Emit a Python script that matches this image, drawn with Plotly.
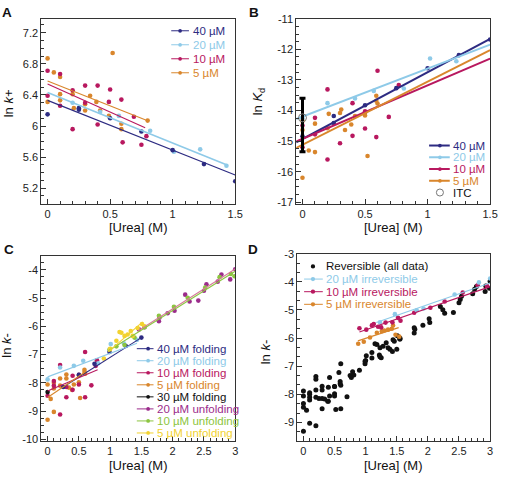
import plotly.graph_objects as go
import numpy as np

W, H = 505, 478
FONT = "Liberation Sans, Arial, sans-serif"

NAVY = "#2d2b82"
LBLUE = "#8ecae8"
MAG = "#b8185f"
ORANGE = "#d9862c"
PURPLE = "#9b2b8b"
GREEN = "#8cc540"
YELLOW = "#f2d230"
BLACK = "#111111"

# ---------------- Panel A : ln k+ ----------------
a40_x = [0, 0.25, 0.25, 0.5, 0.75, 1.0, 1.25, 1.5]
a40_y = [6.15, 6.23, 6.21, 6.10, 5.93, 5.69, 5.51, 5.29]
a20_x = [0.2, 0.42, 0.57, 0.82, 1.01, 1.22, 1.43]
a20_y = [6.30, 6.18, 6.13, 5.94, 5.67, 5.70, 5.49]
a10_x = [0, 0, 0.1, 0.1, 0.2, 0.2, 0.3, 0.3, 0.4, 0.4, 0.49, 0.5, 0.59, 0.6, 0.69, 0.75, 0.79]
a10_y = [6.71, 6.39, 6.67, 6.26, 6.46, 5.96, 6.52, 6.30, 6.52, 6.02, 6.31, 6.47, 6.34, 5.79, 6.12, 5.76, 5.87]
a5_x = [0, 0, 0.05, 0.1, 0.1, 0.1, 0.2, 0.21, 0.3, 0.3, 0.34, 0.39, 0.42, 0.49, 0.52, 0.59, 0.59, 0.8]
a5_y = [6.87, 6.31, 6.69, 6.63, 6.41, 6.33, 6.41, 6.23, 6.20, 6.28, 6.39, 6.31, 6.20, 6.13, 6.94, 6.03, 5.96, 6.07]
# linear fits: intercept, slope, x-range
a_fit_int = [6.33, 6.43, 6.54, 6.58]
a_fit_slope = [-0.64, -0.65, -0.72, -0.64]
a_fit_xmax = [1.5, 1.43, 0.78, 0.8]
a_xticks = [0, 0.5, 1, 1.5]
a_yticks = [5.2, 5.6, 6, 6.4, 6.8, 7.2]

# ---------------- Panel B : ln Kd ----------------
b40_x = [0, 0.25, 0.25, 0.5, 0.75, 1.0, 1.25, 1.5]
b40_y = [-14.84, -14.18, -14.41, -13.83, -13.27, -12.62, -12.19, -11.68]
b20_x = [0, 0.2, 0.42, 0.57, 0.81, 1.02, 1.23]
b20_y = [-14.25, -13.76, -13.61, -13.36, -13.28, -12.30, -12.39]
b10_x = [0, 0, 0.1, 0.1, 0.2, 0.2, 0.3, 0.4, 0.4, 0.5, 0.5, 0.6, 0.59, 0.69, 0.77]
b10_y = [-14.49, -15.2, -14.24, -14.78, -13.31, -15.6, -15.07, -13.76, -14.83, -14.03, -14.59, -12.70, -14.87, -14.21, -13.17]
b5_x = [0, 0, 0, 0.05, 0.1, 0.1, 0.2, 0.21, 0.3, 0.31, 0.34, 0.39, 0.42, 0.5, 0.5, 0.52, 0.59, 0.59, 0.6]
b5_y = [-14.34, -14.64, -16.2, -15.31, -14.43, -15.36, -14.58, -14.11, -14.08, -13.97, -14.64, -14.46,
        -14.18, -14.16, -14.07, -15.49, -13.52, -13.68, -13.77]
b_fit_int = [-14.93, -14.2, -14.93, -15.12]
b_fit_slope = [2.18, 1.57, 1.75, 2.06]
b_fit_xmin = -0.05
b_fit_xmax = 1.5
itc_x = [0]
itc_y = [-14.24]
itc_err_plus = [0.64]
itc_err_minus = [1.11]
b_yticks = [-17, -16, -15, -14, -13, -12, -11]

# ---------------- Panel C : ln k- ----------------
c40f_x = [0.25, 0.5, 0.75, 0.99, 1.25, 1.5]
c40f_y = [-8.15, -7.72, -7.33, -6.91, -6.70, -6.40]
c20f_x = [0, 0.2, 0.42, 0.57, 0.81, 1.01, 1.22, 1.43]
c20f_y = [-7.88, -7.46, -7.40, -7.22, -7.31, -6.63, -6.60, -6.48]
c10f_x = [0, 0.1, 0.1, 0.2, 0.2, 0.3, 0.3, 0.4, 0.4, 0.5, 0.5, 0.6, 0.6, 0.7, 0.77, 0.79]
c10f_y = [-8.46, -7.94, -8.10, -7.37, -9.12, -8.51, -8.15, -7.75, -8.25, -8.06, -7.72, -6.91, -8.51, -8.09, -7.40, -7.20]
c5f_x = [0, 0, 0.05, 0.1, 0.1, 0.1, 0.2, 0.2, 0.3, 0.3, 0.34, 0.39, 0.42, 0.5, 0.52, 0.59, 0.59, 0.6]
c5f_y = [-9.31, -8.06, -8.57, -9.03, -8.00, -8.20, -7.85, -8.10, -7.85, -7.71, -8.17, -8.25, -8.06, -7.98,
         -8.54, -7.54, -7.62, -7.68]
c30f_x = [0]
c30f_y = [-8.33]
c20u_x = [1.46, 1.55, 1.78, 1.79, 1.92, 2.03, 2.2, 2.27, 2.41, 2.5, 2.54, 2.72, 2.78, 2.92, 3.0]
c20u_y = [-6.11, -6.03, -5.82, -5.69, -5.54, -5.45, -4.88, -5.12, -5.09, -4.74, -4.51, -4.42, -4.17, -4.34, -3.98]
c10u_x = [0.99, 1.1, 1.23, 1.39, 1.55, 1.78, 2.02, 2.24, 2.52, 2.75, 2.93, 2.99]
c10u_y = [-6.82, -6.71, -6.66, -6.40, -6.03, -5.63, -5.31, -4.99, -4.63, -4.26, -4.15, -4.23]
c5u_x = [0.9, 1.0, 1.1, 1.15, 1.18, 1.23, 1.28, 1.33, 1.36, 1.44, 1.51, 1.55]
c5u_y = [-7.14, -6.80, -6.51, -6.20, -6.23, -6.34, -6.29, -6.17, -6.34, -6.06, -5.92, -6.00]
# fits (intercept, slope, xmin, xmax) in order 40f,20f,10f,5f,20u,10u,5u
c_fit_int = [-8.50, -7.79, -8.29, -8.52, -8.20, -8.22, -8.78]
c_fit_slope = [1.40, 0.83, 0.94, 1.50, 1.41, 1.39, 1.93]
c_fit_xmin = [0.25, 0, 0, 0, 1.45, 0.98, 0.97]
c_fit_xmax = [1.5, 1.43, 0.8, 0.6, 3.0, 3.0, 1.52]
cd_xticks = [0, 0.5, 1, 1.5, 2, 2.5, 3]
c_yticks = [-10, -9, -8, -7, -6, -5, -4]

# ---------------- Panel D : irreversible ----------------
d20_x = [1.23, 1.47, 1.82, 1.93, 2.43, 2.82, 3.0]
d20_y = [-5.44, -5.15, -5.01, -4.95, -4.45, -4.02, -3.88]
d10_x = [0.9, 1.01, 1.1, 1.13, 1.2, 1.25, 1.32, 1.43, 1.52, 1.56, 1.78, 2.04, 2.27, 2.56, 2.8, 2.95]
d10_y = [-5.65, -5.70, -5.55, -5.50, -5.60, -5.62, -5.45, -5.44, -5.28, -5.38, -5.10, -4.92, -4.70, -4.38, -4.12, -4.15]
d5_x = [0.88, 0.97, 1.07, 1.18, 1.26, 1.3, 1.36, 1.42, 1.44, 1.48, 1.54]
d5_y = [-6.20, -6.13, -5.98, -5.81, -5.76, -5.73, -5.70, -5.67, -5.55, -5.88, -5.95]
d_fit_int = [-6.35, -6.48, -6.73]
d_fit_slope = [0.77, 0.77, 0.72]
d_fit_xmin = [1.17, 0.9, 0.875]
d_fit_xmax = [3.0, 3.0, 1.53]
d_yticks = [-9, -8, -7, -6, -5, -4, -3]

fig = go.Figure()

def pts(x, y, color, xa, ya, size=4.6):
    fig.add_trace(go.Scatter(x=x, y=y, mode="markers", xaxis=xa, yaxis=ya, showlegend=False,
                             marker=dict(color=color, size=size, line=dict(width=0))))

def fit(b, m, x0, x1, color, xa, ya, width=1):
    xs = np.array([x0, x1])
    fig.add_trace(go.Scatter(x=xs, y=b + m * xs, mode="lines", xaxis=xa, yaxis=ya, showlegend=False,
                             line=dict(color=color, width=width)))

# A
colsA = [NAVY, LBLUE, MAG, ORANGE]
for (x, y), c in zip([(a5_x, a5_y), (a10_x, a10_y), (a20_x, a20_y), (a40_x, a40_y)], colsA[::-1]):
    pts(x, y, c, "x", "y")
for i, c in enumerate(colsA):
    fit(a_fit_int[i], a_fit_slope[i], 0, a_fit_xmax[i], c, "x", "y", width=1.1 if i != 1 else 1.6)

# B
for (x, y), c in zip([(b5_x, b5_y), (b10_x, b10_y), (b20_x, b20_y), (b40_x, b40_y)], colsA[::-1]):
    pts(x, y, c, "x2", "y2")
for i, c in enumerate(colsA):
    fit(b_fit_int[i], b_fit_slope[i], b_fit_xmin, b_fit_xmax, c, "x2", "y2", width=2)
fig.add_trace(go.Scatter(x=itc_x, y=itc_y, mode="markers", xaxis="x2", yaxis="y2", showlegend=False,
                         marker=dict(symbol="circle-open", size=8, color="#777777", line=dict(width=1)),
                         error_y=dict(type="data", symmetric=False, array=itc_err_plus,
                                      arrayminus=itc_err_minus, thickness=3, width=3, color="black")))

# C
c_series = [(c5f_x, c5f_y, ORANGE), (c10f_x, c10f_y, MAG), (c20f_x, c20f_y, LBLUE), (c40f_x, c40f_y, NAVY),
            (c30f_x, c30f_y, BLACK), (c20u_x, c20u_y, PURPLE), (c10u_x, c10u_y, GREEN), (c5u_x, c5u_y, YELLOW)]
for x, y, c in c_series:
    pts(x, y, c, "x3", "y3")
c_fit_cols = [NAVY, LBLUE, MAG, ORANGE, "#d77a9a", GREEN, YELLOW]
for i, c in enumerate(c_fit_cols):
    fit(c_fit_int[i], c_fit_slope[i], c_fit_xmin[i], c_fit_xmax[i], c, "x3", "y3", width=1.1)

# D
rev_x = c5f_x + c10f_x + c20f_x + c40f_x + c30f_x + c20u_x + c10u_x + c5u_x
rev_y = c5f_y + c10f_y + c20f_y + c40f_y + c30f_y + c20u_y + c10u_y + c5u_y
pts(rev_x, rev_y, BLACK, "x4", "y4", size=5)
for (x, y), c in zip([(d5_x, d5_y), (d10_x, d10_y), (d20_x, d20_y)], [ORANGE, MAG, LBLUE]):
    pts(x, y, c, "x4", "y4")
for i, c in enumerate([LBLUE, MAG, ORANGE]):
    fit(d_fit_int[i], d_fit_slope[i], d_fit_xmin[i], d_fit_xmax[i], c, "x4", "y4", width=1.1)

# ---------------- axes ----------------
def dom(px0, px1, py0, py1):
    return [px0 / W, px1 / W], [1 - py1 / H, 1 - py0 / H]

common = dict(showline=True, linecolor="#333333", linewidth=1, mirror=True, ticks="inside", ticklen=5,
              tickcolor="#333333", showgrid=False, zeroline=False, tickmode="array",
              tickfont=dict(family=FONT, size=11, color="#222222"))

def lab(vals):
    return ["%g" % v for v in vals]

def axes(n, xd, yd, xr, yr, xt, xminor, yt, yminor):
    sx = "" if n == 1 else str(n)
    fig.update_layout({
        "xaxis" + sx: dict(domain=xd, range=xr, tickvals=xt, ticktext=lab(xt), anchor="y" + sx,
                           minor=dict(ticks="inside", ticklen=2.5, tickmode="linear", dtick=xminor,
                                      tick0=0, tickcolor="#333333", showgrid=False),
                           **common),
        "yaxis" + sx: dict(domain=yd, range=yr, tickvals=yt, ticktext=lab(yt), anchor="x" + sx,
                           minor=dict(ticks="inside", ticklen=2.5, tickmode="linear", dtick=yminor,
                                      tick0=yt[0], tickcolor="#333333", showgrid=False),
                           **common),
    })

xd, yd = dom(42, 239, 13, 202)
axes(1, xd, yd, [-0.05, 1.5], [5.0, 7.38], a_xticks, 0.1, a_yticks, 0.1)
xd, yd = dom(301, 498, 13, 202)
axes(2, xd, yd, [-0.05, 1.5], [-17.05, -11], a_xticks, 0.1, b_yticks, 0.25)
xd, yd = dom(42, 239, 255, 444)
axes(3, xd, yd, [-0.1, 3], [-10.05, -3.5], cd_xticks, 0.1, c_yticks, 0.25)
xd, yd = dom(302, 498, 253, 444)
axes(4, xd, yd, [-0.1, 3], [-9.65, -3], cd_xticks, 0.1, d_yticks, 1 / 3)

# ---------------- text ----------------
ann = []
shapes = []

def text(px, py, s, size=13, color="#111111", angle=0, xanchor="center", bold=False):
    ann.append(dict(x=px / W, y=1 - py / H, xref="paper", yref="paper", text=("<b>%s</b>" % s) if bold else s,
                    showarrow=False, xanchor=xanchor, yanchor="middle", textangle=angle,
                    font=dict(family=FONT, size=size, color=color)))

text(7.5, 7, "A", 13.5, bold=True)
text(258, 7, "B", 13.5, bold=True)
text(9, 249, "C", 13.5, bold=True)
text(257, 248.5, "D", 13.5, bold=True)

for cx, cy in [(140.5, 226), (400, 226), (141, 469), (400, 469)]:
    text(cx, cy, "[Urea] (M)", 13)
text(9.5, 99, "ln <i>k</i>+", 13, angle=-90)
text(263, 97.5, "ln <i>K</i><sub>d</sub>", 13, angle=-90)
text(7, 346, "ln <i>k</i>-", 13, angle=-90)
text(270, 353, "ln <i>k</i>-", 13, angle=-90)

def legend(items, xl0, xl1, xm, xt, y0, dy, lw, fs, r=1.9):
    for i, (label, color, has_line, mk) in enumerate(items):
        y = y0 + i * dy
        if has_line:
            shapes.append(dict(type="line", xref="paper", yref="paper", x0=xl0 / W, x1=xl1 / W,
                               y0=1 - y / H, y1=1 - y / H, line=dict(color=color, width=lw)))
        if mk == "dot":
            shapes.append(dict(type="circle", xref="paper", yref="paper", x0=(xm - r) / W, x1=(xm + r) / W,
                               y0=1 - (y + r) / H, y1=1 - (y - r) / H, fillcolor=color, line=dict(width=0)))
        elif mk == "open":
            rr = 3.6
            shapes.append(dict(type="circle", xref="paper", yref="paper", x0=(xm - rr) / W, x1=(xm + rr) / W,
                               y0=1 - (y + rr) / H, y1=1 - (y - rr) / H, line=dict(color="#777777", width=1)))
        tcol = "#111111" if color in (BLACK, "#777777") else color
        text(xt, y, label, fs, color=tcol, xanchor="left")

legend([("40 µM", NAVY, True, "dot"), ("20 µM", LBLUE, True, "dot"),
        ("10 µM", MAG, True, "dot"), ("5 µM", ORANGE, True, "dot")],
       174, 192, 183, 194, 25.3, 14.3, 1, 11.5)
legend([("40 µM", NAVY, True, "dot"), ("20 µM", LBLUE, True, "dot"),
        ("10 µM", MAG, True, "dot"), ("5 µM", ORANGE, True, "dot"), ("ITC", "#777777", False, "open")],
       436, 457, 447, 458, 142.5, 12, 2, 11.5)
legend([("40 µM folding", NAVY, True, "dot"), ("20 µM folding", LBLUE, True, "dot"),
        ("10 µM folding", MAG, True, "dot"), ("5 µM folding", ORANGE, True, "dot"),
        ("30 µM folding", BLACK, True, "dot"), ("20 µM unfolding", PURPLE, True, "dot"),
        ("10 µM unfolding", GREEN, True, "dot"), ("5 µM unfolding", YELLOW, True, "dot")],
       139, 156, 150.5, 157, 350, 12.3, 1, 11.5)
legend([("Reversible (all data)", BLACK, False, "dot"), ("20 µM irreversible", LBLUE, True, "dot"),
        ("10 µM irreversible", MAG, True, "dot"), ("5 µM irreversible", ORANGE, True, "dot")],
       309, 328, 318, 329, 266, 12.9, 1, 11.5, r=2.2)

fig.update_layout(width=W, height=H, margin=dict(l=0, r=0, t=0, b=0), plot_bgcolor="white",
                  paper_bgcolor="white", showlegend=False, annotations=ann, shapes=shapes,
                  font=dict(family=FONT), hovermode=False)
fig.write_html("out.html", config={"displayModeBar": False, "staticPlot": True},
               post_script="document.body.style.margin='0px';document.body.style.overflow='hidden';")
